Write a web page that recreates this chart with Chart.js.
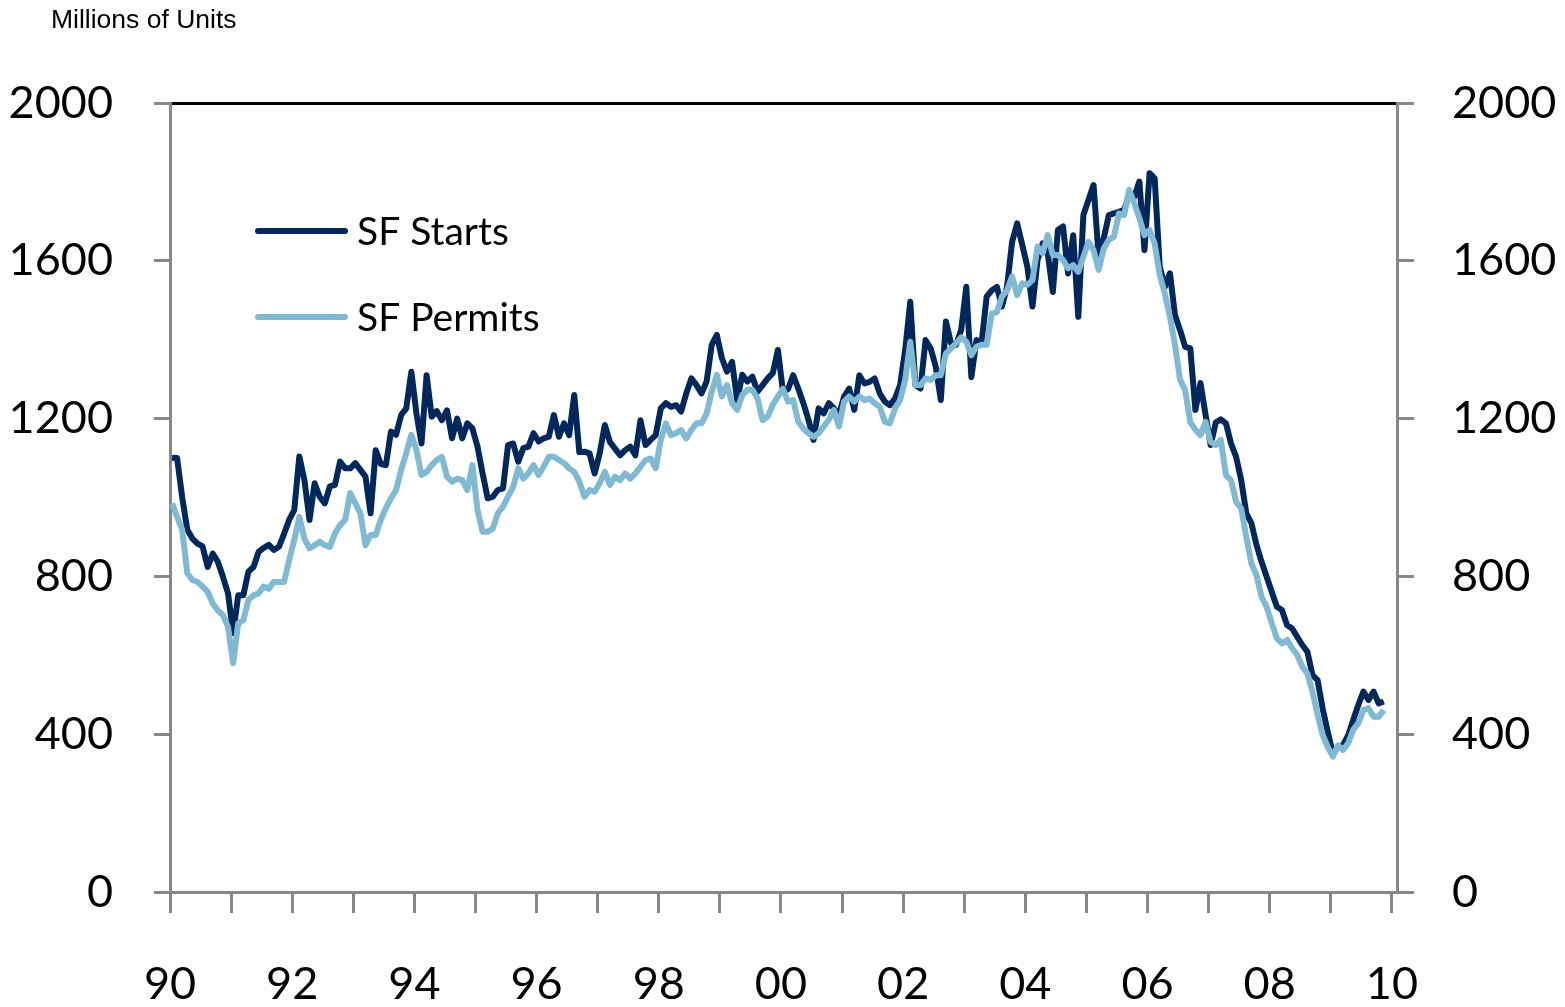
<!DOCTYPE html>
<html>
<head>
<meta charset="utf-8">
<script src="https://cdn.jsdelivr.net/npm/chart.js@4.4.0/dist/chart.umd.min.js"></script>
<style>
  html, body { margin: 0; padding: 0; background: #ffffff; }
  canvas { display: block; }
</style>
</head>
<body>
<canvas id="housingChart" width="1565" height="1007"></canvas>
<script>
// monthly values, Jan 1990 onwards (thousands, SAAR)
const unitsLabel = "Millions of Units";
const yearLabels = ["90", "92", "94", "96", "98", "00", "02", "04", "06", "08", "10"];
const yTicks = [0, 400, 800, 1200, 1600, 2000];

const sfStarts = [
  1101, 1100, 1000, 918, 896, 883, 876, 824, 858, 837, 799, 757,
  656, 752, 752, 812, 824, 862, 872, 880, 867, 875, 908, 943,
  968, 1104, 1044, 943, 1036, 1002, 985, 1028, 1032, 1091, 1074, 1074,
  1087, 1070, 1053, 960, 1120, 1085, 1082, 1167, 1159, 1209, 1226, 1319,
  1213, 1137, 1310, 1205, 1219, 1196, 1221, 1150, 1200, 1150, 1188, 1175,
  1129, 1061, 998, 1002, 1019, 1023, 1133, 1137, 1091, 1125, 1129, 1163,
  1142, 1150, 1154, 1209, 1154, 1188, 1158, 1260, 1115, 1116, 1112, 1061,
  1112, 1184, 1141, 1124, 1107, 1120, 1129, 1107, 1196, 1133, 1146, 1158,
  1226, 1239, 1230, 1234, 1218, 1264, 1302, 1285, 1264, 1294, 1387, 1412,
  1353, 1319, 1344, 1247, 1311, 1294, 1306, 1268, 1285, 1302, 1315, 1374,
  1268, 1275, 1310, 1276, 1239, 1197, 1146, 1226, 1213, 1239, 1226, 1209,
  1256, 1276, 1222, 1310, 1289, 1293, 1302, 1264, 1243, 1234, 1251, 1285,
  1374, 1496, 1285, 1276, 1399, 1378, 1332, 1247, 1446, 1391, 1387, 1425,
  1534, 1305, 1399, 1391, 1509, 1525, 1534, 1484, 1534, 1648, 1695, 1640,
  1585, 1484, 1602, 1644, 1619, 1521, 1678, 1687, 1568, 1665, 1458, 1716,
  1754, 1792, 1610, 1657, 1716, 1720, 1724, 1729, 1767, 1762, 1801, 1627,
  1822, 1809, 1585, 1534, 1568, 1462, 1424, 1382, 1378, 1222, 1290, 1210,
  1133, 1190, 1198, 1188, 1137, 1103, 1044, 960, 935, 880, 837, 799,
  761, 723, 715, 677, 668, 647, 626, 609, 550, 537, 465, 406,
  351, 368, 372, 397, 436, 474, 508, 487, 508, 478, 483
];

const sfPermits = [
  985, 951, 918, 808, 791, 786, 774, 761, 731, 714, 702, 672,
  580, 681, 689, 740, 752, 757, 774, 769, 786, 786, 786, 841,
  892, 951, 896, 871, 879, 888, 879, 875, 909, 930, 943, 1011,
  985, 960, 879, 905, 905, 943, 973, 998, 1019, 1070, 1112, 1159,
  1120, 1057, 1065, 1082, 1095, 1103, 1053, 1040, 1048, 1044, 1019, 1082,
  968, 913, 913, 921, 960, 977, 1002, 1027, 1074, 1048, 1061, 1082,
  1057, 1078, 1103, 1103, 1095, 1087, 1074, 1065, 1040, 1002, 1019, 1015,
  1036, 1065, 1032, 1053, 1044, 1061, 1048, 1061, 1078, 1095, 1099, 1074,
  1146, 1188, 1158, 1163, 1171, 1150, 1171, 1188, 1188, 1213, 1268, 1311,
  1256, 1285, 1239, 1222, 1260, 1273, 1273, 1251, 1196, 1205, 1235, 1256,
  1275, 1243, 1247, 1192, 1175, 1163, 1154, 1163, 1180, 1197, 1222, 1180,
  1243, 1256, 1243, 1256, 1247, 1251, 1239, 1230, 1192, 1188, 1226, 1247,
  1298, 1395, 1285, 1285, 1302, 1298, 1310, 1310, 1365, 1378, 1391, 1406,
  1395, 1361, 1382, 1387, 1387, 1466, 1470, 1509, 1525, 1560, 1513, 1543,
  1539, 1551, 1636, 1619, 1665, 1615, 1615, 1602, 1581, 1589, 1572, 1610,
  1648, 1627, 1577, 1631, 1653, 1661, 1720, 1716, 1780, 1746, 1708, 1665,
  1678, 1644, 1564, 1517, 1458, 1386, 1298, 1272, 1190, 1172, 1158, 1192,
  1141, 1133, 1146, 1057, 1044, 989, 972, 900, 833, 803, 748, 723,
  681, 643, 630, 639, 618, 601, 571, 554, 508, 449, 398, 368,
  343, 372, 360, 377, 411, 428, 461, 466, 444, 444, 461
];

const startsColor = "#00285C";
const permitsColor = "#80B9D3";
const axisGray = "#878787";

// month index -> x (points sit a little into the month)
function toPoints(values) {
  return values.map((v, i) => ({ x: i + 0.4, y: v }));
}

const extras = {
  id: "extras",
  afterDraw(chart) {
    const ctx = chart.ctx;
    const area = chart.chartArea;
    ctx.save();
    ctx.fillStyle = "#000";
    ctx.textBaseline = "middle";
    ctx.textAlign = "left";
    ctx.font = '26.5px "Liberation Sans", Arial, sans-serif';
    ctx.fillText(unitsLabel, 51, 21);

    // legend, drawn inside the plot
    chart.data.datasets.forEach((ds, k) => {
      const y = area.top + 128 + k * 86;
      ctx.strokeStyle = ds.borderColor;
      ctx.lineWidth = 6;
      ctx.lineCap = "round";
      ctx.beginPath();
      ctx.moveTo(area.left + 88, y);
      ctx.lineTo(area.left + 175, y);
      ctx.stroke();
      ctx.font = "39px Lato";
      ctx.fillStyle = "#000";
      ctx.fillText(ds.label, area.left + 187, y + 1);
    });
    ctx.restore();
  }
};

const ctx = document.getElementById("housingChart").getContext("2d");
new Chart(ctx, {
  type: "line",
  data: {
    datasets: [
      {
        label: "SF Starts",
        data: toPoints(sfStarts),
        borderColor: startsColor,
        borderWidth: 6,
        pointRadius: 0,
        borderJoinStyle: "round",
        fill: false,
        order: 1
      },
      {
        label: "SF Permits",
        data: toPoints(sfPermits),
        borderColor: permitsColor,
        borderWidth: 6,
        pointRadius: 0,
        borderJoinStyle: "round",
        fill: false,
        order: 0
      }
    ]
  },
  options: {
    responsive: false,
    animation: false,
    layout: { padding: { top: 103, left: 0, right: 0, bottom: 0 } },
    plugins: {
      legend: { display: false },
      tooltip: { enabled: false },
      title: { display: false }
    },
    scales: {
      x: {
        type: "linear",
        position: "bottom",
        min: 0,
        max: 241,
        afterBuildTicks: (scale) => {
          scale.ticks = [];
          for (let m = 0; m <= 240; m += 12) scale.ticks.push({ value: m });
        },
        afterFit: (scale) => { scale.height = 115; },
        grid: {
          drawOnChartArea: false,
          drawTicks: true,
          tickLength: 21,
          color: axisGray,
          lineWidth: 3
        },
        border: { display: true, color: axisGray, width: 3 },
        ticks: {
          autoSkip: false,
          maxRotation: 0,
          padding: 44,
          color: "#000",
          font: { family: "Lato", size: 45 },
          callback: (value) => (value % 24 === 0 ? yearLabels[value / 24] : "")
        }
      },
      xTop: {
        type: "linear",
        position: "top",
        min: 0,
        max: 241,
        afterFit: (scale) => { scale.height = 0; },
        grid: { display: false, drawTicks: false },
        border: { display: true, color: "#000", width: 3 },
        ticks: { display: false }
      },
      y: {
        position: "left",
        min: 0,
        max: 2000,
        afterBuildTicks: (scale) => { scale.ticks = yTicks.map((v) => ({ value: v })); },
        afterFit: (scale) => { scale.width = 170; },
        grid: {
          drawOnChartArea: false,
          drawTicks: true,
          tickLength: 16,
          color: axisGray,
          lineWidth: 3
        },
        border: { display: true, color: axisGray, width: 3 },
        ticks: {
          padding: 41,
          color: "#000",
          font: { family: "Lato", size: 45 },
          callback: (value) => String(value)
        }
      },
      yRight: {
        position: "right",
        min: 0,
        max: 2000,
        afterBuildTicks: (scale) => { scale.ticks = yTicks.map((v) => ({ value: v })); },
        afterFit: (scale) => { scale.width = 168; },
        grid: {
          drawOnChartArea: false,
          drawTicks: true,
          tickLength: 17,
          color: axisGray,
          lineWidth: 3
        },
        border: { display: true, color: axisGray, width: 3 },
        ticks: {
          padding: 38,
          color: "#000",
          font: { family: "Lato", size: 45 },
          callback: (value) => String(value)
        }
      }
    }
  },
  plugins: [extras]
});
</script>
</body>
</html>
